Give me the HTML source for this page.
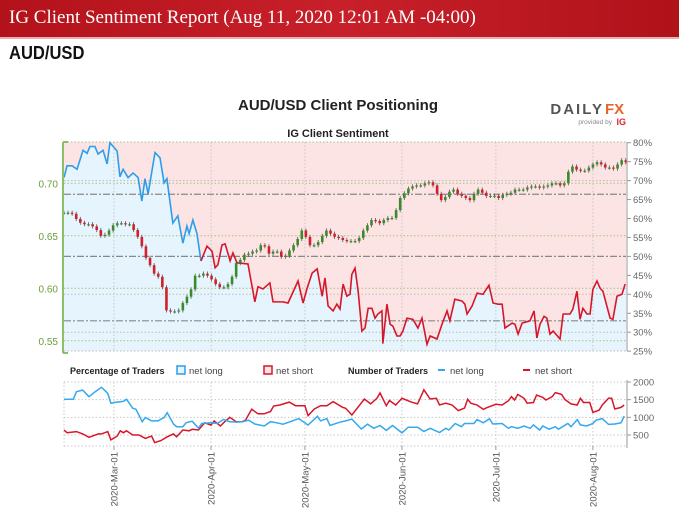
<!DOCTYPE html>
<html><head><meta charset="utf-8"><style>
body{margin:0;width:679px;height:518px;overflow:hidden;background:#fff;font-family:"Liberation Sans",sans-serif}
#hdr{position:absolute;left:0;top:0;width:679px;height:37px;background:linear-gradient(90deg,#b3121b,#c8202a 50%,#b0121a);border-bottom:2px solid #e8b0b0}
#hdr span{position:absolute;left:9px;top:7px;color:#fff;font-family:"Liberation Serif",serif;font-size:19px}
#pair{position:absolute;left:9px;top:43px;font-size:18px;font-weight:bold;color:#111;transform:scaleX(.92);transform-origin:left}
svg{position:absolute;left:0;top:0}
</style></head><body>
<div id="hdr"><span>IG Client Sentiment Report (Aug 11, 2020 12:01 AM -04:00)</span></div>
<div id="pair">AUD/USD</div>
<svg id="c" width="679" height="518"></svg>
<script>
const sentDays=[-16.3,-15,-13.4,-11.8,-9.9,-8.6,-7.7,-6.1,-5.1,-3.5,-2.2,-1.3,1,1.9,2.9,4.5,6.1,7.7,8.9,9.9,10.9,13.1,14.7,16,16.9,18.8,20.4,22,23.3,24,25.2,26.5,27.8,29.7,31.3,32.3,33.2,34.5,35.5,37.1,38,39.3,42.8,45,46,47.6,49.8,50.8,54,55.6,58.8,60.4,61.7,63.3,64.9,66.5,67.4,68.4,70,71.2,72.2,73.2,74.4,75.4,76,77,78,79.2,80.2,81.2,82.4,83.4,84.3,85.6,85.9,87.2,88.2,89.1,90.4,91.4,92.3,93.6,95.5,97.1,98.4,100,101,103.2,104.8,106.4,107.3,108.9,111.2,112.1,112.8,114.4,116,117.9,119.8,121.1,122.7,124,124.9,127.2,128.1,129.1,130.4,132.9,134.2,135.1,136.1,137.4,138.3,139.3,140.3,142.5,143.5,145.7,146.6,147.9,148.9,149.8,151.1,152.1,153,154.3,155.3,156.2,158.5,159.4,160.7,162.3,163.3];
const sentPct=[70.8,73.9,73.9,73,78,77.2,79,79,77,78,74.4,80,77.8,71,73,70.8,72,70.8,64.6,70.5,66.5,77.4,76,69.4,70.5,58.8,60.7,53.5,58,56,59.6,56,48.8,52.7,51.4,47,47.8,53,53.3,48.8,50.9,48.3,48,38,42,41.4,43,38,38,37.7,43.5,37.7,41.6,45.6,46.7,39.5,44.3,36.9,35.6,37.4,36.1,42.7,39.5,40,45.3,46.9,40.8,30.3,31.1,36.3,36.3,33.7,34.8,35.6,27,37.4,32.1,31.6,29,29,30.3,33.7,33.4,31.1,33.7,26.8,29,28.2,32.1,35.6,33,38.7,38.2,37.4,34.8,36.9,40.3,40,42.4,37.7,37.4,37.4,31.1,32.4,32.1,29.5,32.4,33,35.6,28.5,32.1,34.2,33.7,29.5,30.3,28.2,34.8,34.8,36.1,40.8,33.4,36.3,34.8,34.8,41.3,43.5,41.6,40.8,33.7,33.4,39.5,40,42.7];
const priceClose=[.672,.672,.671,.666,.6625,.661,.661,.659,.6555,.650,.651,.655,.660,.662,.662,.661,.661,.6555,.649,.640,.629,.622,.614,.611,.601,.579,.578,.578,.579,.586,.592,.599,.612,.612,.614,.612,.6085,.604,.601,.601,.604,.611,.624,.627,.632,.633,.635,.636,.641,.640,.633,.635,.635,.630,.631,.636,.641,.647,.655,.649,.641,.641,.644,.650,.655,.652,.649,.648,.646,.645,.645,.645,.648,.655,.660,.665,.664,.662,.665,.667,.667,.6745,.686,.6905,.695,.697,.698,.698,.700,.701,.698,.690,.684,.687,.692,.694,.690,.688,.686,.684,.690,.694,.691,.688,.688,.688,.686,.689,.690,.691,.694,.694,.694,.696,.697,.697,.696,.697,.698,.700,.700,.698,.700,.711,.716,.713,.712,.712,.715,.718,.720,.718,.715,.715,.714,.718,.722,.720];
const longDays=[-16,-13,-12,-10,-8,-6,-4,-2,-1,0,3,4,6,7,9,10,12,14,16,17,19,20,22,23,25,27,28,31,33,35,37,39,41,43,45,48,50,52,54,57,59,62,65,66,68,69,72,74,76,79,81,83,85,87,89,92,94,97,99,101,104,106,107,109,111,112,115,116,118,120,121,124,126,127,129,131,133,134,136,137,139,141,142,145,146,148,149,151,153,154,156,158,160,162,163];
const longVals=[1510,1510,1725,1770,1585,1725,1850,1680,1400,1420,1450,1510,1255,1230,875,995,900,900,995,1130,810,735,735,845,890,690,825,845,825,940,875,865,875,920,810,755,875,845,805,900,965,780,1030,900,965,770,860,900,950,670,805,690,770,630,770,560,720,720,600,690,570,690,640,825,735,825,825,935,845,960,810,825,690,735,690,755,690,785,640,755,665,735,665,825,735,935,785,755,825,920,965,800,810,845,1035];
const shortDays=[-16,-15,-12,-10,-8,-5,-4,-2,-1,1,2,3,4,6,8,10,12,13,15,17,19,20,22,24,25,27,29,31,32,34,35,37,39,41,42,44,46,48,50,51,53,56,58,61,62,64,66,68,70,73,74,76,80,82,84,85,87,88,90,92,95,97,99,101,103,104,106,108,110,112,113,114,116,118,119,122,124,126,127,128,129,131,132,134,135,137,138,140,141,143,144,146,148,149,150,152,153,155,156,158,159,160,162,163];
const shortVals=[640,565,595,530,435,530,530,595,360,470,620,565,620,500,500,405,470,285,340,450,530,450,640,620,660,640,845,780,900,755,845,1000,875,875,920,1230,1100,1100,1165,1320,1350,1430,1330,1330,1045,1235,1330,1330,1445,1285,1255,1065,1520,1380,1540,1690,1330,1475,1350,1540,1430,1380,1780,1520,1540,1350,1400,1350,1190,1260,1510,1400,1350,1225,1270,1370,1350,1470,1585,1490,1650,1540,1400,1420,1630,1565,1490,1585,1700,1650,1510,1380,1350,1540,1420,1420,1140,1205,1350,1540,1540,1235,1280,1350];
const pctTicks=[80,75,70,65,60,55,50,45,40,35,30,25];
const priceTicks=[0.70,0.65,0.60,0.55];
const countTicks=[2000,1500,1000,500];
const monthLabels=["2020-Mar-01","2020-Apr-01","2020-May-01","2020-Jun-01","2020-Jul-01","2020-Aug-01"];
const monthDays=[0,31,61,92,122,153];

const NS="http://www.w3.org/2000/svg",svg=document.getElementById('c');
const X0=64,X1=626,T=142,B=351,LT=382,LB=446;
const xd=d=>114+3.13*d, yp=p=>183.3+(0.70-p)*1050, yc=v=>142.7+(80-v)*3.79, yn=v=>382+(2000-v)*0.03533;
function mk(t,a,name,txt){const e=document.createElementNS(NS,t);for(const k in a)e.setAttribute(k,a[k]);


if(txt!==undefined)e.textContent=txt;svg.appendChild(e);return e;}
mk('text',{x:338,y:110,'text-anchor':'middle','font-size':15,'font-weight':'bold',fill:'#222'},'chart-title','AUD/USD Client Positioning');
mk('text',{x:338,y:137,'text-anchor':'middle','font-size':11,'font-weight':'bold',fill:'#222'},'panel-title','IG Client Sentiment');
mk('text',{x:604,y:114,'text-anchor':'end','font-size':15,'font-weight':'bold',fill:'#555','letter-spacing':'2'},'dailyfx-logo','DAILY');
mk('text',{x:605,y:114,'font-size':15,'font-weight':'bold',fill:'#e8642a'},'dailyfx-logo-fx','FX');
mk('text',{x:612,y:124,'text-anchor':'end','font-size':6.5,fill:'#888'},'provided-by','provided by');
mk('text',{x:626,y:125,'text-anchor':'end','font-size':9,'font-weight':'bold',fill:'#d8262e'},'ig-logo','IG');
const pts=sentDays.map((d,i)=>[Math.max(X0,xd(d)),yc(sentPct[i])]);
const line=pts.map(p=>p[0].toFixed(1)+','+p[1].toFixed(1)).join(' ');
mk('rect',{x:X0,y:T,width:X1-X0,height:B-T,fill:'#fce4e4'},'net-short-area');
mk('polygon',{points:X0+','+B+' '+line+' '+X1+','+pts[pts.length-1][1]+' '+X1+','+B,fill:'#e6f4fd'},'net-long-area');
monthDays.forEach((d,i)=>{mk('line',{x1:xd(d),x2:xd(d),y1:T,y2:B,stroke:'#c8c8c8','stroke-dasharray':'1.5,2'},'grid-v-'+i);
 mk('line',{x1:xd(d),x2:xd(d),y1:LT,y2:LB,stroke:'#c8c8c8','stroke-dasharray':'1.5,2'},'grid-v-lower-'+i);});
[70,40,30].forEach(v=>mk('line',{x1:X0,x2:X1,y1:yc(v),y2:yc(v),stroke:'#bbb','stroke-dasharray':'1.5,2'},'grid-pct'));
priceTicks.forEach(p=>mk('line',{x1:X0,x2:X1,y1:yp(p),y2:yp(p),stroke:'#a8c080','stroke-dasharray':'1.5,2'},'grid-price'));
mk('line',{x1:X0,x2:X1,y1:T,y2:T,stroke:'#a8c080','stroke-dasharray':'1.5,2'},'grid-top');
mk('line',{x1:X0,x2:X1,y1:B,y2:B,stroke:'#bbb','stroke-dasharray':'1.5,2'},'grid-bottom');
[66.4,50,33].forEach(v=>mk('line',{x1:X0,x2:X1,y1:yc(v),y2:yc(v),stroke:'#888','stroke-width':1.2,'stroke-dasharray':'7,2,2,2'},'reference-line'));
const blue=[],red=[];sentDays.forEach((d,i)=>{if(d<=28)blue.push(pts[i]);if(d>=27.8)red.push(pts[i]);});
mk('polyline',{points:blue.map(p=>p.join(',')).join(' '),fill:'none',stroke:'#2d9de8','stroke-width':1.6},'net-long-pct-line');
mk('polyline',{points:red.map(p=>p.join(',')).join(' '),fill:'none',stroke:'#d8162a','stroke-width':1.6},'net-short-pct-line');
const n=priceClose.length,step=(163.5+16)/(n-1);
priceClose.forEach((c,i)=>{const o=i?priceClose[i-1]:c,x=xd(-16+i*step),hi=Math.max(o,c)+0.002,lo=Math.min(o,c)-0.002;
 mk('line',{x1:x,x2:x,y1:yp(hi),y2:yp(lo),stroke:'#555','stroke-width':0.8},'candle-wick');
 const top=yp(Math.max(o,c)),h=Math.max(1.2,Math.abs(yp(o)-yp(c)));
 mk('rect',{x:x-1.3,y:top,width:2.6,height:h,fill:c>=o?'#3a8a2a':'#d0202a'},'candle-body');});
mk('line',{x1:63,x2:63,y1:T,y2:B+2,stroke:'#8bc06a','stroke-width':2},'price-axis');
mk('line',{x1:63,x2:68,y1:T,y2:T,stroke:'#8bc06a','stroke-width':2},'price-axis-cap');
mk('line',{x1:63,x2:68,y1:B+2,y2:B+2,stroke:'#8bc06a','stroke-width':2},'price-axis-cap');
priceTicks.forEach(p=>mk('text',{x:58,y:yp(p)+4,'text-anchor':'end','font-size':10,fill:'#6a9e3a'},'price-tick-label',p.toFixed(2)));
mk('line',{x1:627,x2:627,y1:T,y2:B,stroke:'#999'},'pct-axis');
pctTicks.forEach(v=>{mk('line',{x1:627,x2:631,y1:yc(v),y2:yc(v),stroke:'#999'},'pct-tick');
 mk('text',{x:633,y:yc(v)+3.5,'font-size':9.5,fill:'#666'},'pct-tick-label',v+'%');});
mk('line',{x1:X0,x2:X1,y1:LT,y2:LT,stroke:'#c8c8c8','stroke-dasharray':'1.5,2'},'lower-grid-top');
mk('line',{x1:X0,x2:X1,y1:LB,y2:LB,stroke:'#c8c8c8','stroke-dasharray':'1.5,2'},'lower-grid-bottom');
mk('line',{x1:X0,x2:X0,y1:LT,y2:LB,stroke:'#c8c8c8','stroke-dasharray':'1.5,2'},'lower-grid-left');
countTicks.forEach(v=>mk('line',{x1:X0,x2:X1,y1:yn(v),y2:yn(v),stroke:'#c8c8c8','stroke-dasharray':'1.5,2'},'lower-grid-h'));
mk('line',{x1:627,x2:627,y1:LT-2,y2:LB+2,stroke:'#999'},'count-axis');
countTicks.forEach(v=>{mk('line',{x1:627,x2:631,y1:yn(v),y2:yn(v),stroke:'#999'},'count-tick');
 mk('text',{x:633,y:yn(v)+3.5,'font-size':9.5,fill:'#666'},'count-tick-label',v);});
mk('polyline',{points:shortDays.map((d,i)=>Math.max(X0,xd(d))+','+yn(shortVals[i]).toFixed(1)).join(' '),fill:'none',stroke:'#d8162a','stroke-width':1.5},'net-short-count-line');
mk('polyline',{points:longDays.map((d,i)=>Math.max(X0,xd(d))+','+yn(longVals[i]).toFixed(1)).join(' '),fill:'none',stroke:'#35a8ee','stroke-width':1.5},'net-long-count-line');
monthDays.forEach((d,i)=>{mk('line',{x1:xd(d),x2:xd(d),y1:LB,y2:LB+4,stroke:'#999'},'x-tick');
 mk('text',{x:0,y:0,transform:'translate('+(xd(d)+3.5)+','+(LB+6)+') rotate(-90)','text-anchor':'end','font-size':9.5,fill:'#555'},'x-tick-label',monthLabels[i]);});
mk('text',{x:70,y:374,'font-size':9,'font-weight':'bold',fill:'#222'},'legend-pct-title','Percentage of Traders');
mk('rect',{x:177,y:366,width:8,height:8,fill:'#e6f4fd',stroke:'#2d9de8','stroke-width':1.5},'legend-net-long-box');
mk('text',{x:189,y:374,'font-size':9.5,fill:'#444'},'legend-net-long','net long');
mk('rect',{x:264,y:366,width:8,height:8,fill:'#fce4e4',stroke:'#d8162a','stroke-width':1.5},'legend-net-short-box');
mk('text',{x:276,y:374,'font-size':9.5,fill:'#444'},'legend-net-short','net short');
mk('text',{x:348,y:374,'font-size':9,'font-weight':'bold',fill:'#222'},'legend-count-title','Number of Traders');
mk('line',{x1:438,x2:445,y1:370,y2:370,stroke:'#35a8ee','stroke-width':2},'legend-long-line');
mk('text',{x:450,y:374,'font-size':9.5,fill:'#444'},'legend-count-long','net long');
mk('line',{x1:523,x2:530,y1:370,y2:370,stroke:'#d8162a','stroke-width':2},'legend-short-line');
mk('text',{x:535,y:374,'font-size':9.5,fill:'#444'},'legend-count-short','net short');
</script>
</body></html>
